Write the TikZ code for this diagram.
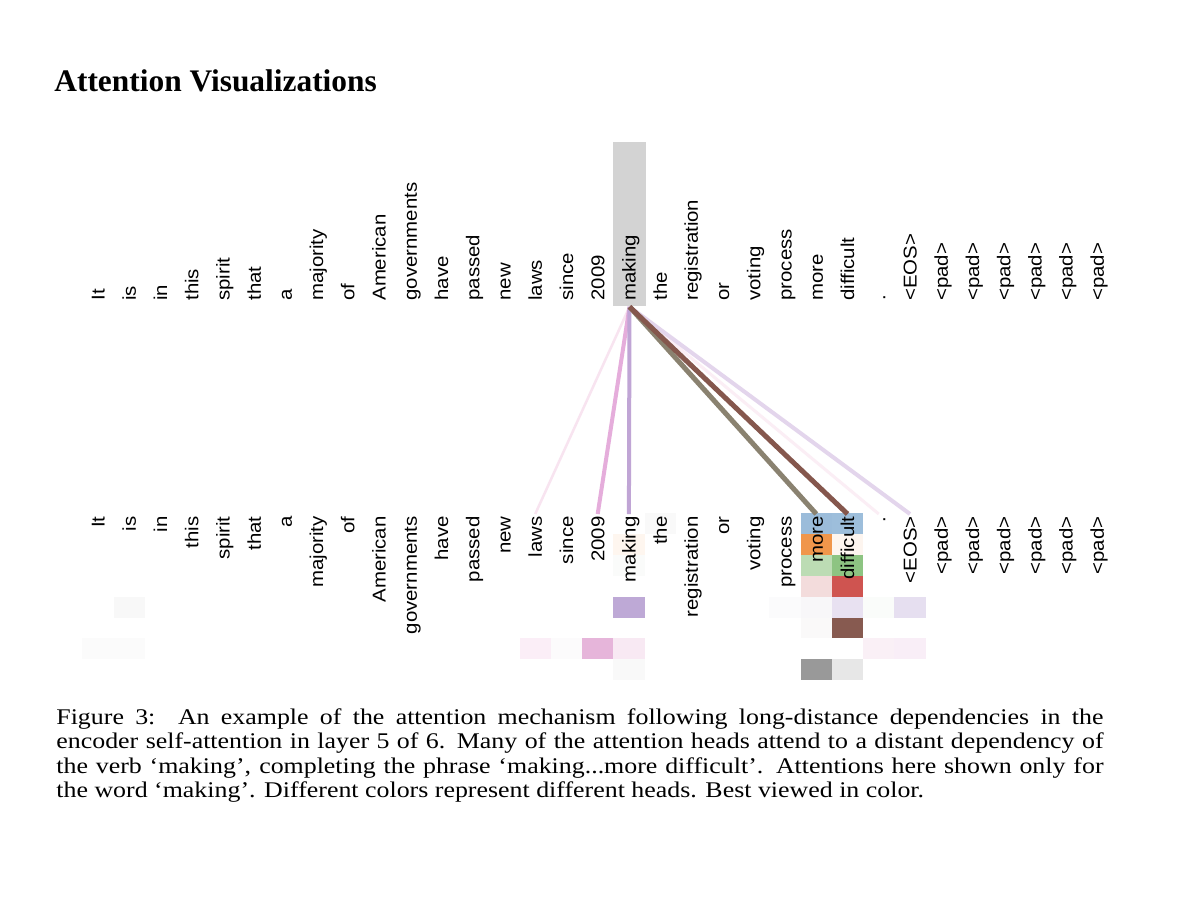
\documentclass[tikz,border=0pt]{standalone}
\usepackage{fontspec}
\setmainfont{Liberation Serif}
\newfontfamily\labfont{Liberation Sans}
\usepackage{graphicx}
\definecolor{hlgray}{HTML}{D3D3D3}
\definecolor{lnlaws}{HTML}{F8E4F0}
\definecolor{lndot}{HTML}{FBEEF5}
\definecolor{lneos}{HTML}{E3D5EC}
\definecolor{lnyear}{HTML}{E5ADDB}
\definecolor{lnmaking}{HTML}{C0A5D5}
\definecolor{lnmore}{HTML}{8A8270}
\definecolor{lndiff}{HTML}{85574D}
\begin{document}
\begin{tikzpicture}[x=0.5pt,y=-0.5pt,
  topw/.style={rotate=90, anchor=west, inner sep=0pt, font=\labfont\fontsize{10.2}{12}\selectfont, text height=8pt, text depth=1.4pt},
  botw/.style={rotate=90, anchor=east, inner xsep=1pt, inner ysep=0pt, font=\labfont\fontsize{10.2}{12}\selectfont, text height=8pt, text depth=1.4pt},
  conn/.style={line cap=butt},
  capline/.style={anchor=base west, inner sep=0pt, font=\fontsize{11.2}{13}\selectfont}]
\path[use as bounding box] (0,0) rectangle (1204,904);
\fill[white] (0,0) rectangle (1204,904);
% heat-map cells (columns x rows)
\foreach \cc/\rr/\hx in {18/0/F9F9F9, 23/0/9BBCDA, 24/0/9DBEDB,
  17/1/FEF6EF, 23/1/F0964B, 24/1/FDF5EF,
  17/2/FAFBFA, 23/2/BCDCB4, 24/2/8DC482,
  23/3/F3DCDC, 24/3/CF5450,
  1/4/F8F8F8, 17/4/BEA9D6, 22/4/FBFBFC, 23/4/F8F7F9, 24/4/E8E1F1, 25/4/FAFCFA, 26/4/E6DFF0,
  23/5/FAF9F9, 24/5/875A50,
  0/6/FBFBFB, 1/6/FBFBFB, 14/6/FBEEF7, 15/6/FCFBFC, 16/6/E6B5DA, 17/6/F8E9F3, 25/6/FAF0F6, 26/6/F9EEF7,
  17/7/F9F9F9, 23/7/999999, 24/7/E7E7E7}{
  \definecolor{cellc}{HTML}{\hx}
  \fill[cellc] ({98+\cc*31.23-15.615},{513.3+\rr*20.85}) rectangle ++(31.23,20.85);
}
% highlight of the query word
\node[fill=hlgray, minimum width=16.5pt, minimum height=82pt, inner sep=0pt, anchor=north] (hl) at (629.5,142) {};
% words
\foreach \w [count=\i from 0] in {It,is,in,this,spirit,that,a,majority,of,American,governments,have,passed,new,laws,since,2009,making,the,registration,or,voting,process,more,difficult,.,<EOS>,<pad>,<pad>,<pad>,<pad>,<pad>,<pad>}{
  \node[topw] (t\i) at ({98+\i*31.23},301) {\scalebox{1}[0.91]{\w}};
  \node[botw] (b\i) at ({98+\i*31.23},514) {\scalebox{1}[0.91]{\w}};
}
% attention connectors
\draw[conn, lnlaws, line width=1.25pt] (hl.south) -- (b14.east);
\draw[conn, lndot, line width=1.5pt] (hl.south) -- (b25.east);
\draw[conn, lneos, line width=2pt] (hl.south) -- (b26.east);
\draw[conn, lnyear, line width=2pt] (hl.south) -- (b16.east);
\draw[conn, lnmaking, line width=2pt] (hl.south) -- (b17.east);
\draw[conn, lnmore, line width=2.5pt] (hl.south) -- (b23.east);
\draw[conn, lndiff, line width=2.5pt] (hl.south) -- (b24.east);
% title
\node[anchor=base west, inner sep=0pt] (title) at (54,92) {\fontsize{15.7}{18}\selectfont\bfseries Attention Visualizations};
% caption
\node[capline] (c1) at (56,724) {\scalebox{1.156}[1]{\makebox[452.9pt][s]{Figure 3:\ \ An example of the attention mechanism following long-distance dependencies in the}}};
\node[capline] (c2) at (56,748) {\scalebox{1.156}[1]{\makebox[452.9pt][s]{encoder self-attention in layer 5 of 6. Many of the attention heads attend to a distant dependency of}}};
\node[capline] (c3) at (56,773) {\scalebox{1.156}[1]{\makebox[452.9pt][s]{the verb ‘making’, completing the phrase ‘making...more difficult’. Attentions here shown only for}}};
\node[capline] (c4) at (56,797) {\scalebox{1.156}[1]{the word ‘making’. Different colors represent different heads. Best viewed in color.}};
\end{tikzpicture}
\end{document}
